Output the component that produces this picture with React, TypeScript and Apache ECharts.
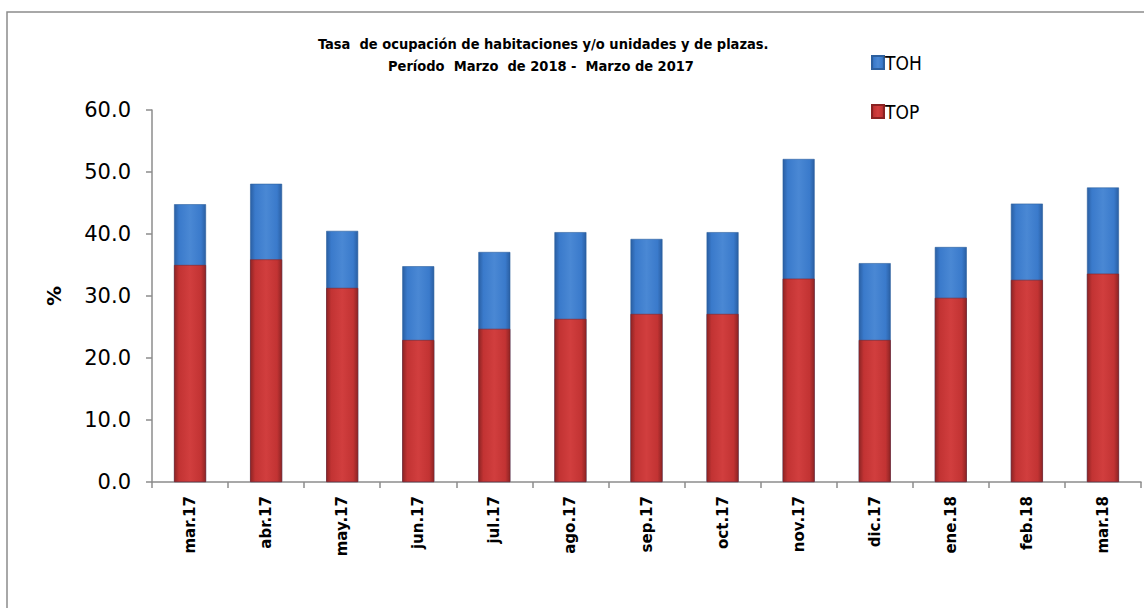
import React, { useEffect, useRef } from "react";
import * as echarts from "echarts";

const categories = ["mar.17", "abr.17", "may.17", "jun.17", "jul.17", "ago.17", "sep.17", "oct.17", "nov.17", "dic.17", "ene.18", "feb.18", "mar.18"];
const tohValues = [44.8, 48.1, 40.5, 34.8, 37.1, 40.3, 39.2, 40.3, 52.1, 35.3, 37.9, 44.9, 47.5];
const topValues = [35.0, 35.9, 31.3, 22.9, 24.7, 26.3, 27.1, 27.1, 32.8, 22.9, 29.7, 32.6, 33.6];
const yTicks = { min: 0, max: 60, interval: 10 };
const titleLines = ["Tasa  de ocupación de habitaciones y/o unidades y de plazas.", "Período  Marzo  de 2018 -  Marzo de 2017"];

const blueGrad = new echarts.graphic.LinearGradient(0, 0, 1, 0, [
  { offset: 0, color: "#2a5fa3" },
  { offset: 0.15, color: "#3a7acb" },
  { offset: 0.5, color: "#4a88d4" },
  { offset: 0.85, color: "#3a7acb" },
  { offset: 1, color: "#2a5fa3" },
]);
const redGrad = new echarts.graphic.LinearGradient(0, 0, 1, 0, [
  { offset: 0, color: "#8e2424" },
  { offset: 0.15, color: "#c23333" },
  { offset: 0.5, color: "#d13e3e" },
  { offset: 0.85, color: "#c23333" },
  { offset: 1, color: "#8e2424" },
]);

export default function App() {
  const ref = useRef<HTMLDivElement>(null);
  useEffect(() => {
    if (!ref.current) return;
    const chart = echarts.init(ref.current, null, { renderer: "svg" });
    chart.setOption({
      animation: false,
      backgroundColor: "#ffffff",
      graphic: [
        {
          type: "rect",
          shape: { x: 7, y: 12, width: 1150, height: 610 },
          style: { fill: "none", stroke: "#8c8c8c", lineWidth: 1.5 },
          silent: true,
        },
        {
          type: "text",
          left: 318,
          top: 36,
          style: {
            text: titleLines[0],
            font: "bold 14.5px 'Liberation Sans Narrow', 'DejaVu Sans Condensed', sans-serif",
            fill: "#000",
          },
        },
        {
          type: "text",
          left: 388,
          top: 58,
          style: {
            text: titleLines[1],
            font: "bold 14.5px 'Liberation Sans Narrow', 'DejaVu Sans Condensed', sans-serif",
            fill: "#000",
          },
        },
      ],
      legend: {
        orient: "vertical",
        left: 866,
        top: 48,
        itemWidth: 12,
        itemHeight: 13,
        itemGap: 30,
        icon: "rect",
        data: ["TOH", "TOP"],
        textStyle: { fontSize: 19, fontFamily: "'Liberation Sans Narrow', 'DejaVu Sans Condensed', sans-serif", color: "#000", padding: [0, 0, 0, -4] },
      },
      grid: { left: 152, right: 3, top: 110, bottom: 126, containLabel: false },
      xAxis: {
        type: "category",
        data: categories,
        axisLine: { lineStyle: { color: "#8c8c8c", width: 1.5 } },
        axisTick: { show: true, length: 6, lineStyle: { color: "#8c8c8c", width: 1.5 } },
        axisLabel: {
          rotate: 90,
          fontSize: 15,
          fontWeight: "bold",
          fontFamily: "'DejaVu Sans', Verdana, sans-serif",
          color: "#000",
          margin: 14,
        },
      },
      yAxis: {
        type: "value",
        min: yTicks.min,
        max: yTicks.max,
        interval: yTicks.interval,
        name: "%",
        nameLocation: "middle",
        nameGap: 88,
        nameRotate: 90,
        nameTextStyle: { fontSize: 20, fontWeight: "bold", fontFamily: "'DejaVu Sans', sans-serif", color: "#000" },
        splitLine: { show: false },
        axisLine: { show: true, lineStyle: { color: "#8c8c8c", width: 1.5 } },
        axisTick: { show: true, length: 6, lineStyle: { color: "#8c8c8c", width: 1.5 } },
        axisLabel: {
          fontSize: 21,
          fontFamily: "'DejaVu Sans', Verdana, sans-serif",
          color: "#000",
          margin: 21,
          formatter: (v: number) => v.toFixed(1),
        },
      },
      series: [
        {
          name: "TOH",
          type: "bar",
          data: tohValues,
          barWidth: "42%",
          barGap: "-100%",
          itemStyle: { color: blueGrad, borderColor: "#2c5f9e", borderWidth: 0.6 },
        },
        {
          name: "TOP",
          type: "bar",
          data: topValues,
          barWidth: "42%",
          itemStyle: { color: redGrad, borderColor: "#8a2222", borderWidth: 0.6 },
        },
      ],
    });
    return () => chart.dispose();
  }, []);
  return <div ref={ref} style={{ position: "fixed", left: 0, top: 0, width: 1144, height: 608 }} />;
}
